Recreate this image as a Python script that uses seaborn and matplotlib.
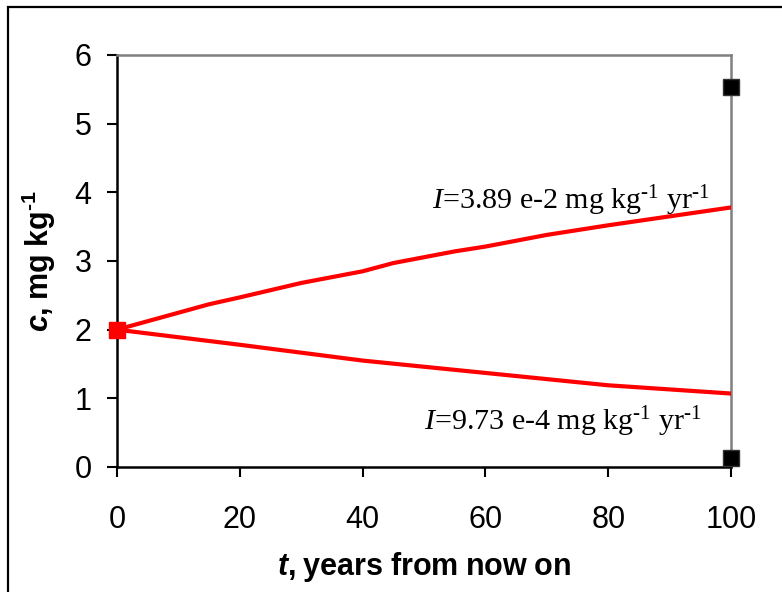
import matplotlib
matplotlib.use("Agg")
import matplotlib.pyplot as plt
import seaborn as sns
import pandas as pd
from matplotlib.patches import Rectangle

# ---- data ----
t_high = [0, 15, 20, 30, 40, 45, 55, 60, 70, 80, 90, 100]
c_high = [2.0, 2.37, 2.47, 2.68, 2.85, 2.97, 3.14, 3.21, 3.38, 3.52, 3.65, 3.78]
t_low = [0, 20, 40, 60, 80, 100]
c_low = [2.0, 1.78, 1.55, 1.37, 1.19, 1.07]
t_start = [0]
c_start = [2.0]
t_end = [100, 100]
c_end = [5.53, 0.13]
x_ticks = [0, 20, 40, 60, 80, 100]
y_ticks = [0, 1, 2, 3, 4, 5, 6]
label_high = r"$I$=3.89 e-2 mg kg$^{\text{-1}}$ yr$^{\text{-1}}$"
label_low = r"$I$=9.73 e-4 mg kg$^{\text{-1}}$ yr$^{\text{-1}}$"

sns.set_style("white")
plt.rcParams["font.family"] = ["Liberation Sans", "DejaVu Sans"]
plt.rcParams["text.color"] = "black"
plt.rcParams["axes.labelcolor"] = "black"
plt.rcParams["xtick.color"] = "black"
plt.rcParams["ytick.color"] = "black"
plt.rcParams["mathtext.fontset"] = "custom"
plt.rcParams["mathtext.rm"] = "Liberation Serif"
plt.rcParams["mathtext.it"] = "Liberation Serif:italic"
plt.rcParams["mathtext.bf"] = "Liberation Sans:bold"
plt.rcParams["mathtext.bfit"] = "Liberation Sans:italic:bold"
plt.rcParams["mathtext.sf"] = "Liberation Sans"

fig = plt.figure(figsize=(7.82, 5.92), dpi=100)
ax = fig.add_axes([117/782, 1-467/592, (731-117)/782, (467-55)/592])

df_h = pd.DataFrame({"t": t_high, "c": c_high})
df_l = pd.DataFrame({"t": t_low, "c": c_low})
sns.lineplot(data=df_h, x="t", y="c", ax=ax, color="#ff0000", lw=3, zorder=3)
sns.lineplot(data=df_l, x="t", y="c", ax=ax, color="#ff0000", lw=3, zorder=3)

ax.plot(t_start, c_start, ls="none", marker="s", ms=12, mfc="#ff0000",
        mec="#ff0000", mew=1, zorder=5, clip_on=False)
ax.plot(t_end, c_end, ls="none", marker="s", ms=12, mfc="black",
        mec="#333333", mew=1, zorder=5, clip_on=False)

ax.set_xlim(0, 100)
ax.set_ylim(0, 6)
ax.set_xticks(x_ticks)
ax.set_yticks(y_ticks)
ax.tick_params(axis="both", direction="out", length=7.2, width=1.5,
               colors="black", labelsize=22, bottom=True, left=True)
ax.tick_params(axis="y", pad=11)
ax.tick_params(axis="x", pad=20)

for side in ["left", "bottom"]:
    ax.spines[side].set_color("black")
    ax.spines[side].set_linewidth(1.8)
for side in ["top", "right"]:
    ax.spines[side].set_color("#808080")
    ax.spines[side].set_linewidth(1.8)

ax.set_xlabel(r"$\mathbfit{t}\mathbf{{,}\ years\ from\ now\ on}$", fontsize=22,
              labelpad=11, color="black")
ax.set_ylabel(r"$\mathbfit{c}\mathbf{{,}\ mg\ kg^{‐1}}$", fontsize=22,
              labelpad=12, color="black")

ax.text(96.6, 3.76, label_high, ha="right", va="baseline", color="black",
        family="Liberation Serif", fontsize=21.6)
ax.text(95.3, 0.54, label_low, ha="right", va="baseline", color="black",
        family="Liberation Serif", fontsize=21.6)

fig.patches.append(Rectangle((8/782, -0.05), 1.2, 1 - 7/592 + 0.05,
                             transform=fig.transFigure, fill=False,
                             edgecolor="black", lw=1.6))

fig.savefig("out.png", dpi=100)
